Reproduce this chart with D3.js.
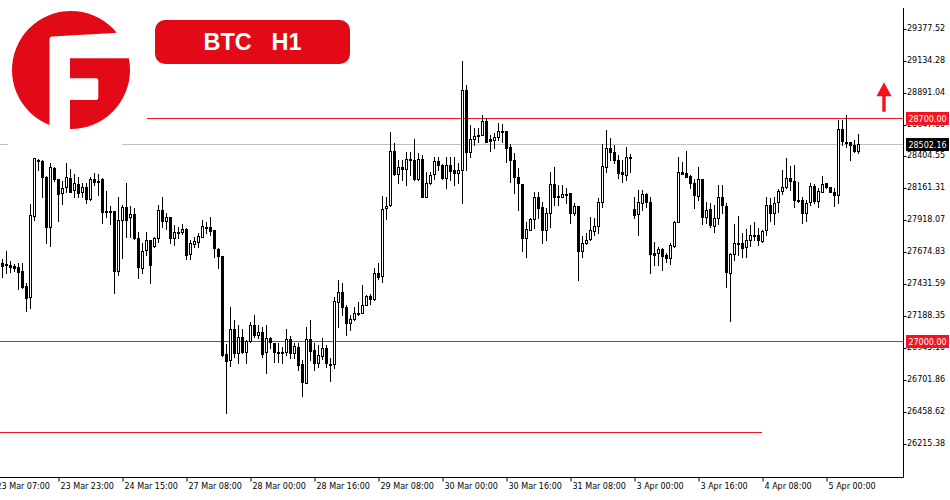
<!DOCTYPE html>
<html><head><meta charset="utf-8">
<script src="https://cdn.jsdelivr.net/npm/d3@7/dist/d3.min.js"></script>
<style>
html,body{margin:0;padding:0;background:#fff;}
svg{display:block;}
</style>
</head><body>
<svg id="chart" width="950" height="500"></svg>
<script>
// ---- Data (BTC H1 candles) ----
const openV = [27594,27586,27581,27573,27568,27535,27423,27334,27954,28381,28376,28254,27868,28320,28236,28132,28173,28242,28152,28198,
28137,28175,28082,28234,28221,28236,27992,27992,27992,27537,27924,28025,27944,27970,27784,27556,27695,27771,27725,27788,
28000,27918,27944,27784,27835,27832,27853,27665,27738,27758,27796,27873,27868,27848,27700,27649,26900,26857,27091,26908,
27034,26920,27004,27121,27047,27068,26915,27022,26984,26920,26918,26920,27014,26912,26958,26824,26684,27014,26933,26836,
26889,26946,26826,26824,27301,27373,27258,27141,27171,27213,27217,27276,27344,27324,27517,27497,28013,28036,28452,28274,
28330,28310,28389,28381,28239,28387,28101,28204,28274,28374,28346,28242,28346,28305,28284,28305,28915,28444,28539,28570,
28572,28679,28539,28534,28559,28602,28602,28483,28381,28254,28198,27789,27848,27929,28101,28021,27848,27979,28198,28109,
28101,28122,28127,27979,28031,27690,27752,27776,27842,27878,28063,28330,28472,28444,28381,28288,28267,28406,28010,27970,
28056,28120,28063,27670,27670,27700,27657,27632,27728,27911,28292,28280,28260,28208,28109,28234,27944,28005,27880,27937,
28101,28031,27517,27662,27746,27746,27716,27771,27809,27809,27764,27848,28036,27975,28059,28147,28173,28242,28223,28076,
28076,27979,28059,28183,28071,28140,28204,28173,28137,28114,28615,28521,28516,28496,28452];
const highV = [27626,27687,27609,27588,27598,27598,27441,28043,28399,28392,28380,28256,28361,28325,28238,28223,28356,28310,28274,28249,
28204,28204,28254,28280,28272,28242,28145,28031,27993,28097,28038,28208,28031,28013,27835,27746,27835,27773,27796,28038,
28101,27979,27946,27886,27873,27891,27860,27771,27796,27822,27924,27911,27944,27849,27708,27651,26978,27263,27161,27123,
27091,27009,27148,27200,27123,27110,27123,27034,26986,26984,26958,27091,27040,26984,26984,26857,27110,27161,26984,26971,
27022,26971,26869,27339,27466,27441,27276,27200,27263,27301,27428,27352,27360,27556,27598,28107,28101,28597,28513,28381,
28381,28444,28444,28539,28437,28419,28292,28292,28406,28406,28347,28406,28406,28406,28356,29136,28953,28648,28623,28623,
28724,28699,28572,28585,28661,28656,28604,28503,28432,28318,28200,27911,27937,28140,28140,28063,28013,28292,28330,28191,
28191,28165,28129,28051,28032,27802,27827,27949,27937,28089,28503,28610,28548,28496,28419,28381,28483,28427,28101,28152,
28152,28127,28101,27758,27720,27708,27670,27746,27918,28406,28369,28452,28267,28234,28330,28236,28063,28051,28038,28191,
28191,28051,27670,27893,27954,27822,27853,27886,27911,27860,27848,28097,28089,28101,28158,28305,28394,28336,28343,28216,
28101,28076,28204,28198,28165,28260,28208,28178,28165,28686,28686,28724,28521,28534,28579];
const lowV = [27492,27517,27530,27537,27396,27403,27232,27255,27924,28305,28101,27746,27726,28223,27918,28046,28140,28138,28097,28097,
28097,28056,28076,28191,28114,27899,27949,27891,27365,27504,27632,27797,27796,27782,27479,27517,27657,27441,27717,27759,
27873,27853,27746,27733,27784,27815,27624,27624,27720,27720,27794,27827,27809,27644,27556,26887,26450,26813,26882,26831,
26908,26831,26996,27034,27022,26882,26755,26946,26843,26843,26831,26895,26869,26869,26780,26582,26679,26857,26780,26806,
26862,26806,26699,26793,27110,27200,27047,27085,27161,27200,27213,27274,27283,27314,27472,27453,27929,28031,28267,28204,
28229,28191,28267,28229,28229,28097,28097,28202,28234,28305,28240,28166,28229,28191,28204,28051,28305,28406,28496,28521,
28570,28521,28452,28475,28534,28521,28369,28216,28127,28000,27690,27639,27846,27860,27937,27746,27771,27873,28038,28038,
28099,28051,27899,27962,27466,27644,27744,27769,27809,27822,28025,28292,28381,28356,28242,28216,28229,28292,27937,27809,
28000,28025,27517,27581,27581,27543,27604,27589,27720,27908,28272,28249,28165,28013,28076,27893,27899,27873,27835,27893,
27975,27411,27156,27619,27657,27644,27644,27726,27771,27733,27758,27809,27918,27893,27987,28122,28171,28152,28021,28063,
27903,27918,28038,28056,28025,28138,28171,28138,28031,28056,28496,28483,28381,28444,28437];
const closeV = [27575,27583,27568,27560,27530,27415,27331,27960,28394,28374,28249,27868,28326,28234,28122,28165,28249,28140,28208,28132,
28175,28086,28236,28216,28217,27987,27990,27990,27537,27924,28025,27924,27970,27784,27563,27690,27771,27581,27788,28000,
27918,27944,27784,27835,27836,27853,27657,27746,27763,27802,27878,27874,27842,27708,27649,26895,26851,27091,26908,27034,
26920,27004,27121,27047,27072,26902,27022,26996,26920,26921,26920,27014,26908,26963,26818,26691,27014,26927,26831,26895,
26946,26831,26828,27306,27373,27258,27141,27169,27213,27215,27276,27344,27319,27517,27492,28005,28033,28452,28274,28330,
28310,28391,28387,28239,28387,28101,28204,28265,28374,28343,28243,28346,28300,28284,28305,28915,28444,28539,28564,28568,
28679,28522,28528,28554,28602,28600,28475,28381,28254,28204,27789,27855,27929,28101,28013,27848,27975,28198,28101,28107,
28122,28120,27979,28031,27690,27746,27771,27848,27878,28059,28336,28472,28444,28381,28284,28272,28406,28394,27962,28063,
28120,28063,27662,27657,27700,27649,27632,27733,27911,28288,28274,28254,28208,28114,28234,27949,28000,27886,27937,28101,
28038,27530,27662,27746,27743,27708,27771,27809,27807,27771,27840,28036,27975,28051,28145,28173,28242,28223,28076,28074,
27979,28051,28183,28071,28147,28198,28174,28140,28114,28615,28528,28522,28496,28452,28502.16];

const xTickIndex = [-2,14,30,46,62,78,94,110,126,142,158,174,190,206];
const xTickLabels = ["23 Mar 07:00","23 Mar 23:00","24 Mar 15:00","27 Mar 08:00","28 Mar 00:00","28 Mar 16:00","29 Mar 08:00",
  "30 Mar 00:00","30 Mar 16:00","31 Mar 08:00","3 Apr 00:00","3 Apr 16:00","4 Apr 08:00","5 Apr 00:00"];
const yTickValues = [29377.52,29134.28,28891.04,28647.80,28404.55,28161.31,27918.07,27674.83,27431.59,27188.35,26945.10,26701.86,26458.62,26215.38];

const resistance = 28700.00;
const support = 27000.00;
const lowerLevel = 26307;
const lastPrice = 28502.16;
const titleText = "BTC   H1";

// ---- Layout ----
const W = 950, H = 500;
const plotRight = 903.5, plotBottom = 477.5;
const RED = "#ec1c24", BRAND = "#e30a17", BOXRED = "#f3141f";
const FONT = "DejaVu Sans";

const svg = d3.select("#chart");
svg.append("rect").attr("width", W).attr("height", H).attr("fill", "#fff");

const N = openV.length;
const candles = d3.range(N).map(i => ({i, o: openV[i], h: highV[i], l: lowV[i], c: closeV[i]}));

const x = d3.scaleLinear().domain([0, N - 1]).range([2.5, 2.5 + 4 * (N - 1)]);
const y = d3.scaleLinear().domain([25964.6, 29600.9]).range([477, 0]);
const py = v => Math.floor(y(v)) + 0.5;

// level lines
svg.append("line").attr("x1", 0).attr("x2", plotRight).attr("y1", py(lastPrice)).attr("y2", py(lastPrice))
  .attr("stroke", "#c0c0c0").attr("stroke-width", 1);
svg.append("line").attr("x1", 147).attr("x2", plotRight).attr("y1", py(resistance)).attr("y2", py(resistance))
  .attr("stroke", RED).attr("stroke-width", 1);
svg.append("line").attr("x1", 0).attr("x2", plotRight).attr("y1", py(support)).attr("y2", py(support))
  .attr("stroke", RED).attr("stroke-width", 1);
svg.append("line").attr("x1", 0).attr("x2", 762).attr("y1", py(lowerLevel)).attr("y2", py(lowerLevel))
  .attr("stroke", RED).attr("stroke-width", 1);

// logo (white backing + red circle with cut-out)
const logo = svg.append("g");
logo.append("rect").attr("x", 8).attr("y", 0).attr("width", 114).attr("height", 148).attr("fill", "#fff");
logo.append("circle").attr("cx", 71).attr("cy", 70).attr("r", 59).attr("fill", BRAND);
logo.append("path").attr("fill", "#fff")
  .attr("d", "M49.5,39 Q49.5,36.5 52,36.5 L114,33 Q119,32.5 122,31 L140,31 L140,58.3 L70,58.3 L70,78.3 L96,78.3 Q98.3,78.3 98.3,80.5 L98.3,97.5 Q98.3,100 96,100 L70,100 L70,140 L49.5,140 Z");
logo.append("path").attr("fill", BRAND)
  .attr("d", "M49.5,116 Q49.5,121 46,122 L44,140 L49.5,140 Z").attr("opacity", 0);

// title pill
svg.append("rect").attr("x", 155).attr("y", 20).attr("width", 195).attr("height", 44).attr("rx", 10)
  .attr("fill", BRAND);
svg.append("text").attr("x", 252.5).attr("y", 50).attr("text-anchor", "middle")
  .attr("font-family", "Liberation Sans, Arial, sans-serif").attr("font-weight", "bold").attr("font-size", 23.5)
  .attr("fill", "#fff").style("white-space", "pre").text(titleText);

// candles
const cg = svg.append("g");
const cs = cg.selectAll("g.c").data(candles).join("g").attr("class", "c");
cs.append("line")
  .attr("x1", d => x(d.i)).attr("x2", d => x(d.i))
  .attr("y1", d => Math.round(y(d.h))).attr("y2", d => Math.round(y(d.l)) + 1)
  .attr("stroke", "#000").attr("stroke-width", 1);
cs.append("rect")
  .attr("x", d => x(d.i) - 1).attr("width", 2)
  .attr("y", d => Math.round(y(Math.max(d.o, d.c))) + 0.5)
  .attr("height", d => Math.max(1, Math.round(y(Math.min(d.o, d.c))) - Math.round(y(Math.max(d.o, d.c)))))
  .attr("fill", d => d.c >= d.o ? "#fff" : "#000")
  .attr("stroke", "#000").attr("stroke-width", 1);

// axes
svg.append("line").attr("x1", plotRight).attr("x2", plotRight).attr("y1", 8).attr("y2", plotBottom)
  .attr("stroke", "#000");
svg.append("line").attr("x1", 0).attr("x2", plotRight).attr("y1", plotBottom).attr("y2", plotBottom)
  .attr("stroke", "#000");

const yAxis = d3.axisRight(y).tickValues(yTickValues).tickSize(3).tickSizeOuter(0)
  .tickFormat(d => d.toFixed(2));
const yg = svg.append("g").attr("transform", `translate(${plotRight},0)`).call(yAxis);
yg.select(".domain").remove();
yg.selectAll(".tick").attr("transform", d => `translate(0,${py(d)})`);
yg.selectAll(".tick line").attr("stroke", "#000");
yg.selectAll(".tick text").attr("x", 3.5).attr("dy", "0.15em").attr("fill", "#000")
  .attr("font-family", FONT).attr("font-size", 8);

const xAxis = d3.axisBottom(x).tickValues(xTickIndex).tickSize(4).tickSizeOuter(0)
  .tickFormat((d, k) => xTickLabels[k]);
const xg = svg.append("g").attr("transform", `translate(0,${plotBottom})`).call(xAxis);
xg.select(".domain").remove();
xg.selectAll(".tick line").attr("stroke", "#000");
xg.selectAll(".tick text").attr("x", 1.5).attr("y", 11.5).attr("dy", 0).attr("text-anchor", "start")
  .attr("fill", "#000").attr("font-family", FONT).attr("font-size", 8);

// price label boxes
function priceBox(v, fill) {
  const cy = y(v);
  svg.append("rect").attr("x", 906).attr("y", Math.round(cy - 6.5)).attr("width", 43).attr("height", 13)
    .attr("fill", fill);
  svg.append("text").attr("x", 927.5).attr("y", Math.round(cy - 6.5) + 10).attr("text-anchor", "middle")
    .attr("font-family", FONT).attr("font-size", 8).attr("fill", "#fff").text(v.toFixed(2));
}
priceBox(resistance, BOXRED);
priceBox(lastPrice, "#000");
priceBox(support, BOXRED);

// up arrow above the resistance label
const ay = y(resistance);
svg.append("path").attr("fill", "#f5121c")
  .attr("d", `M884,${ay - 36} L891.5,${ay - 22} L885.7,${ay - 22} L885.7,${ay - 6.5} L882.3,${ay - 6.5} L882.3,${ay - 22} L876.5,${ay - 22} Z`);
</script>
</body></html>
